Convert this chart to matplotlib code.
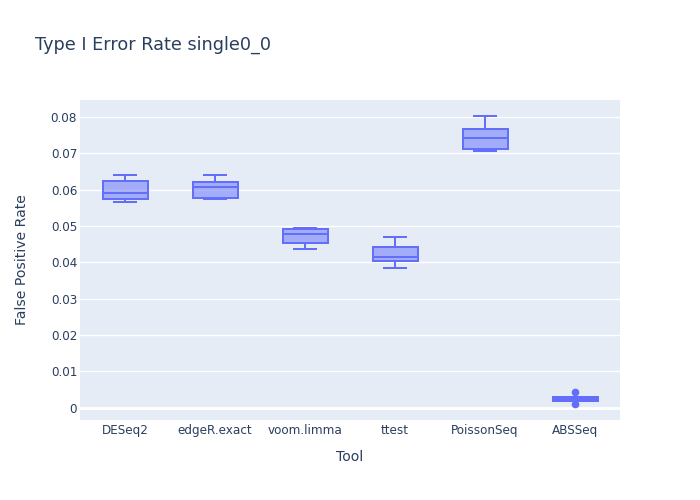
import matplotlib
matplotlib.use("Agg")
import matplotlib.pyplot as plt
from matplotlib.ticker import MultipleLocator, FuncFormatter

tools = ["DESeq2", "edgeR.exact", "voom.limma", "ttest", "PoissonSeq", "ABSSeq"]
whislo = [0.0566, 0.0575, 0.0437, 0.0385, 0.0706, 0.0018]
q1 = [0.0574, 0.0578, 0.0452, 0.0405, 0.0711, 0.0019]
med = [0.0591, 0.0607, 0.0477, 0.0415, 0.0742, 0.0024]
q3 = [0.0624, 0.0621, 0.0493, 0.0441, 0.0768, 0.0029]
whishi = [0.0640, 0.0640, 0.0495, 0.0471, 0.0804, 0.0030]
fliers = [[], [], [], [], [], [0.0044, 0.0010]]

plt.rcParams['font.family'] = ['DejaVu Sans']
BLUE = '#636EFA'
TXT = '#2a3f5f'
BG = '#E5ECF6'

fig = plt.figure(figsize=(7, 5), dpi=100)
ax = fig.add_axes([80/700, 80/500, 540/700, 320/500])
ax.set_facecolor(BG)

stats = []
for i, t in enumerate(tools):
    stats.append(dict(label=t, whislo=whislo[i], q1=q1[i], med=med[i],
                      q3=q3[i], whishi=whishi[i], fliers=fliers[i]))

ax.bxp(stats, positions=range(len(tools)), widths=0.5, capwidths=0.25,
       patch_artist=True, showfliers=True,
       boxprops=dict(facecolor=(0x63/255, 0x6E/255, 0xFA/255, 0.5), edgecolor=BLUE, linewidth=1.44),
       medianprops=dict(color=BLUE, linewidth=1.44),
       whiskerprops=dict(color=BLUE, linewidth=1.44),
       capprops=dict(color=BLUE, linewidth=1.44),
       flierprops=dict(marker='o', markerfacecolor=BLUE, markeredgecolor=BLUE, markersize=4.5),
       zorder=3)

ax.set_xlim(-0.5, 5.5)
ax.set_ylim(-0.00338, 0.08467)
ax.yaxis.set_major_locator(MultipleLocator(0.01))
ax.yaxis.set_major_formatter(FuncFormatter(lambda v, p: '0' if abs(v) < 1e-9 else f'{v:.2f}'))
ax.grid(axis='y', color='white', linewidth=1.0, zorder=0)
ax.axhline(0, color='white', linewidth=2.0, zorder=1)
ax.set_axisbelow(True)
for s in ax.spines.values():
    s.set_visible(False)
ax.tick_params(axis='both', length=0, labelsize=8.64, labelcolor=TXT)
ax.tick_params(axis='y', pad=2)
ax.tick_params(axis='x', pad=3)

ax.set_xlabel('Tool', fontsize=10.08, color=TXT, labelpad=9)
ax.set_ylabel('False Positive Rate', fontsize=10.08, color=TXT, labelpad=15.5)

fig.text(35/700, 1 - 45/500, 'Type I Error Rate single0_0', fontsize=12.7,
         color=TXT, va='center', ha='left')

fig.savefig('out.png', dpi=100, facecolor='white')
